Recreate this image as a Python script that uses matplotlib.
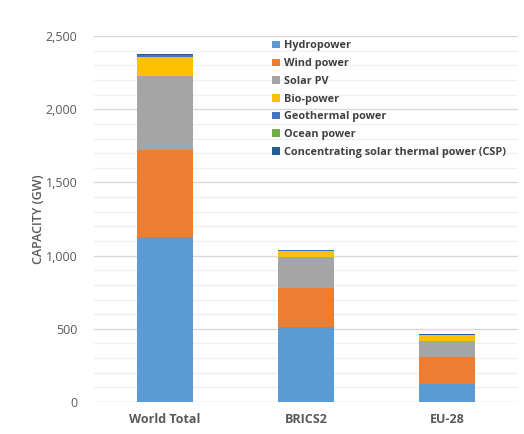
import numpy as np
import matplotlib.pyplot as plt
from matplotlib.ticker import MultipleLocator, FuncFormatter

regions = ["World Total", "BRICS2", "EU-28"]
sources = ["Hydropower", "Wind power", "Solar PV", "Bio-power",
           "Geothermal power", "Ocean power",
           "Concentrating solar thermal power (CSP)"]
colors = ["#5B9BD5", "#ED7D31", "#A5A5A5", "#FFC000", "#4472C4", "#70AD47", "#255E91"]

hydro = [1128, 512, 123]
wind = [592, 267, 184]
solar = [507, 211, 110]
bio = [130, 41, 41]
geothermal = [14, 6, 1]
ocean = [0.5, 0.1, 0.2]
csp = [6, 1, 2.3]
values = [hydro, wind, solar, bio, geothermal, ocean, csp]

plt.rcParams['font.family'] = ['Open Sans', 'DejaVu Sans']

fig = plt.figure(figsize=(5.24, 4.34), dpi=100)
ax = fig.add_axes([0.180, 0.0737, 0.808, 0.843])

x = np.arange(len(regions))
bottom = np.zeros(len(regions))
for name, vals, c in zip(sources, values, colors):
    ax.bar(x, vals, 0.4, bottom=bottom, color=c, label=name, zorder=3)
    bottom += np.array(vals)

ax.set_xlim(-0.5, 2.5)
ax.set_ylim(0, 2500)
ax.yaxis.set_major_locator(MultipleLocator(500))
ax.yaxis.set_minor_locator(MultipleLocator(100))
ax.yaxis.set_major_formatter(FuncFormatter(lambda v, p: f"{int(v):,}"))
ax.grid(axis='y', which='major', color='#D9D9D9', lw=1, zorder=0)
ax.grid(axis='y', which='minor', color='#F0F0F0', lw=1, zorder=0)
ax.set_xticks(x)
ax.set_xticklabels(regions, fontweight='bold')
ax.tick_params(axis='both', which='both', length=0, labelcolor='#595959', labelsize=9)
ax.tick_params(axis='y', pad=12)
ax.tick_params(axis='x', pad=8)
for s in ax.spines.values():
    s.set_visible(False)
ax.set_ylabel("CAPACITY (GW)", fontweight='semibold', color='#595959', fontsize=9, labelpad=1)

leg = ax.legend(loc='upper left', bbox_to_anchor=(0.41, 1.0), frameon=False,
                fontsize=7.8, handlelength=0.7, handleheight=0.7, handletextpad=0.4,
                labelspacing=0.62, borderaxespad=0)
for t in leg.get_texts():
    t.set_color('#404040')
    t.set_fontweight('bold')

plt.savefig("out.png", dpi=100)
